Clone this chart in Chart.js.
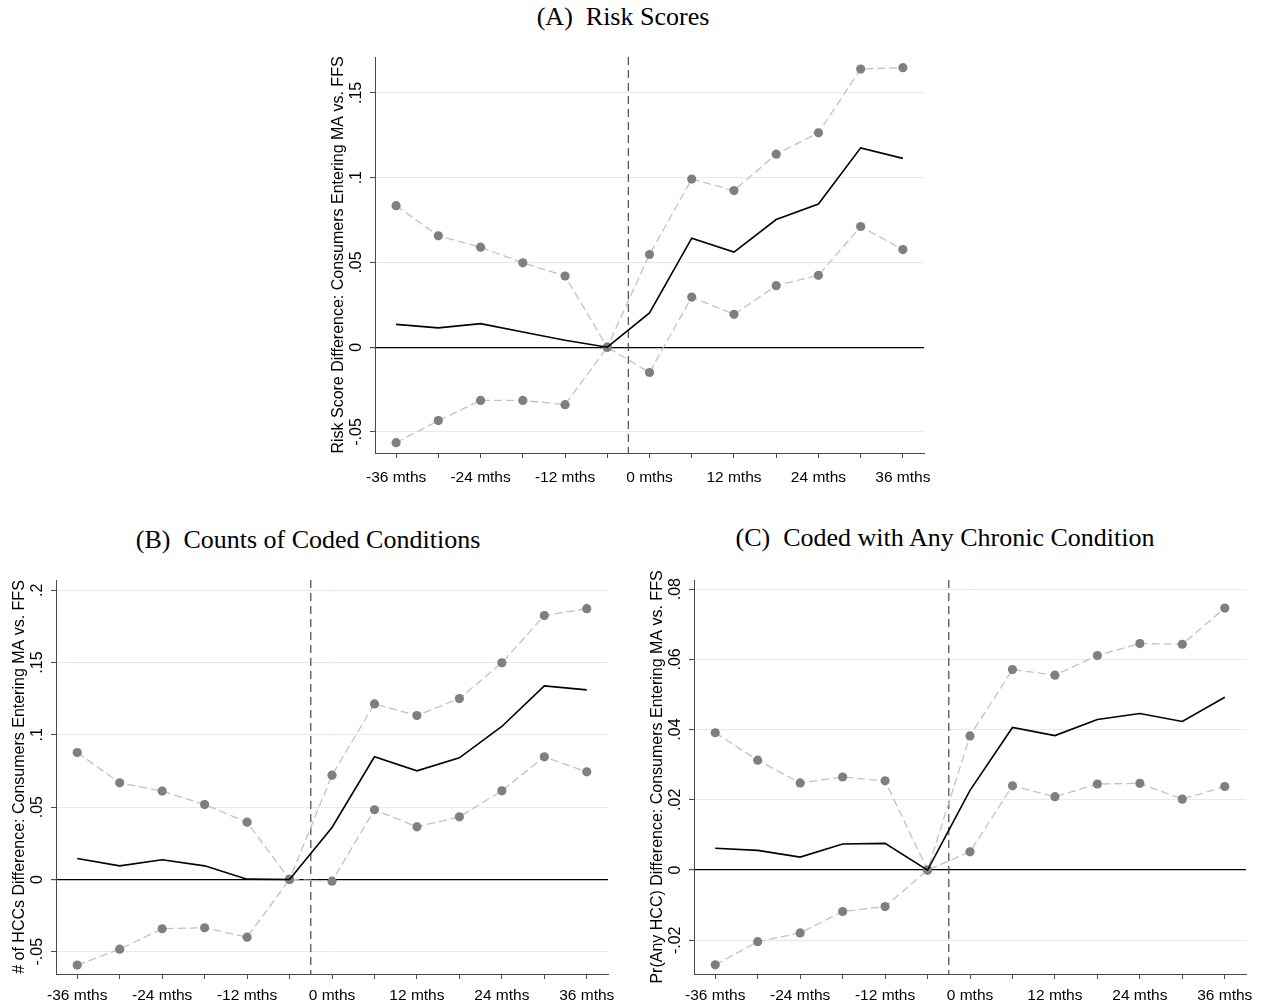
<!DOCTYPE html>
<html>
<head>
<meta charset="utf-8">
<script src="https://cdn.jsdelivr.net/npm/chart.js@4.4.1/dist/chart.umd.min.js"></script>
<style>
  body { margin: 0; background: #fff; width: 1263px; height: 1002px; position: relative; overflow: hidden; }
  .ptitle { position: absolute; font-family: "Liberation Serif", "Times New Roman", serif; font-size: 26px; line-height: 26px;
            white-space: pre; transform: translateX(-50%); color: #000; }
  canvas { position: absolute; }
</style>
</head>
<body>
<div class="ptitle" style="left:623px; top:4px;">(A)  Risk Scores</div>
<div class="ptitle" style="left:308px; top:527px;">(B)  Counts of Coded Conditions</div>
<div class="ptitle" style="left:945px; top:525px;">(C)  Coded with Any Chronic Condition</div>
<canvas id="chartA"></canvas>
<canvas id="chartB"></canvas>
<canvas id="chartC"></canvas>
<script>
// event time (months relative to switch)
var months = [-36, -30, -24, -18, -12, -6, 0, 6, 12, 18, 24, 30, 36];
var xTickLabels = ['-36 mths', '', '-24 mths', '', '-12 mths', '', '0 mths', '', '12 mths', '', '24 mths', '', '36 mths'];
var switchLine = -3;

// (A) risk scores
var riskPoint = [0.0135, 0.0114, 0.0139, 0.0090, 0.0041, 0, 0.0202, 0.0643, 0.0561, 0.0753, 0.0845, 0.1176, 0.1114];
var riskUpper = [0.0835, 0.0657, 0.0590, 0.0498, 0.0420, 0, 0.0547, 0.0992, 0.0924, 0.1139, 0.1265, 0.1641, 0.1649];
var riskLower = [-0.0563, -0.0433, -0.0314, -0.0314, -0.0339, 0, -0.0149, 0.0296, 0.0194, 0.0363, 0.0424, 0.0712, 0.0576];
var riskTicks = [-0.05, 0, 0.05, 0.1, 0.15];
var riskTickLabels = ['-.05', '0', '.05', '.1', '.15'];

// (B) counts of coded conditions
var hccPoint = [0.0145, 0.0094, 0.0136, 0.0094, 0.0002, 0, 0.0359, 0.0848, 0.0751, 0.0841, 0.1058, 0.1339, 0.1311];
var hccUpper = [0.0878, 0.0668, 0.0611, 0.0518, 0.0396, 0, 0.0721, 0.1214, 0.1134, 0.1251, 0.1498, 0.1825, 0.1873];
var hccLower = [-0.0592, -0.0482, -0.0341, -0.0334, -0.0399, 0, -0.0012, 0.0482, 0.0364, 0.0433, 0.0613, 0.0848, 0.0744];
var hccTicks = [-0.05, 0, 0.05, 0.1, 0.15, 0.2];
var hccTickLabels = ['-.05', '0', '.05', '.1', '.15', '.2'];

// (C) any chronic condition
var anyPoint = [0.0062, 0.0056, 0.0037, 0.0074, 0.0076, 0, 0.0227, 0.0406, 0.0383, 0.0429, 0.0446, 0.0423, 0.0492];
var anyUpper = [0.0391, 0.0313, 0.0248, 0.0265, 0.0254, 0, 0.0382, 0.0571, 0.0555, 0.0611, 0.0645, 0.0643, 0.0746];
var anyLower = [-0.0270, -0.0204, -0.0179, -0.0118, -0.0104, 0, 0.0052, 0.0240, 0.0209, 0.0245, 0.0247, 0.0202, 0.0238];
var anyTicks = [-0.02, 0, 0.02, 0.04, 0.06, 0.08];
var anyTickLabels = ['-.02', '0', '.02', '.04', '.06', '.08'];

var AXIS_COLOR = '#4a4a4a';
var GRID_COLOR = '#e3ecec';
var Y_W = 46, X_H = 40, PAD_T = 10, PAD_R = 14;

// vertical dashed line at the switch date
var switchLinePlugin = {
    id: 'switchLine',
    beforeDatasetsDraw: function(chart) {
        var x = chart.scales.x.getPixelForValue(switchLine);
        var area = chart.chartArea;
        var ctx = chart.ctx;
        ctx.save();
        ctx.strokeStyle = '#555';
        ctx.lineWidth = 1.3;
        ctx.setLineDash([8, 5]);
        ctx.beginPath();
        ctx.moveTo(x, area.top);
        ctx.lineTo(x, area.bottom);
        ctx.stroke();
        ctx.restore();
    }
};

function toXY(values) {
    return months.map(function(m, i) { return { x: m, y: values[i] }; });
}

function ciDataset(values) {
    return {
        data: toXY(values),
        borderColor: '#c2c2c2',
        borderWidth: 1.3,
        borderDash: [8, 4],
        pointRadius: 4.6,
        pointBackgroundColor: '#7f7f7f',
        pointBorderWidth: 0,
        pointHoverRadius: 4.6,
        tension: 0
    };
}

function makeChart(id, plot, yMin, yMax, yTicks, yTickLabels, yTitle, xPad, point, upper, lower) {
    var canvas = document.getElementById(id);
    var w = plot.right - plot.left + Y_W + PAD_R;
    var h = plot.bottom - plot.top + PAD_T + X_H;
    canvas.width = w;
    canvas.height = h;
    canvas.style.width = w + 'px';
    canvas.style.height = h + 'px';
    canvas.style.left = (plot.left - Y_W) + 'px';
    canvas.style.top = (plot.top - PAD_T) + 'px';

    return new Chart(canvas, {
        type: 'line',
        data: {
            datasets: [
                { data: toXY(point), borderColor: '#000', borderWidth: 1.6, pointRadius: 0, tension: 0 },
                ciDataset(lower),
                ciDataset(upper)
            ]
        },
        options: {
            responsive: false,
            animation: false,
            events: [],
            layout: { padding: { top: PAD_T, right: PAD_R, left: 0, bottom: 0 } },
            plugins: { legend: { display: false }, tooltip: { enabled: false } },
            scales: {
                x: {
                    type: 'linear',
                    min: -39,
                    max: 39,
                    afterBuildTicks: function(axis) {
                        axis.ticks = months.map(function(m) { return { value: m }; });
                    },
                    afterFit: function(axis) { axis.height = X_H; },
                    border: { color: AXIS_COLOR, width: 1 },
                    grid: { drawOnChartArea: false, drawTicks: true, tickLength: 5, tickColor: AXIS_COLOR },
                    ticks: {
                        autoSkip: false,
                        maxRotation: 0,
                        minRotation: 0,
                        padding: xPad,
                        color: '#000',
                        font: { family: 'Liberation Sans, Arial, sans-serif', size: 15.5 },
                        callback: function(value, index) { return xTickLabels[index]; }
                    }
                },
                y: {
                    type: 'linear',
                    min: yMin,
                    max: yMax,
                    afterBuildTicks: function(axis) {
                        axis.ticks = yTicks.map(function(v) { return { value: v }; });
                    },
                    afterFit: function(axis) { axis.width = Y_W; },
                    border: { color: AXIS_COLOR, width: 1 },
                    grid: {
                        drawTicks: true,
                        tickLength: 5,
                        tickColor: AXIS_COLOR,
                        lineWidth: function(c) { return c.tick && c.tick.value === 0 ? 1.2 : 1; },
                        color: function(c) { return c.tick && c.tick.value === 0 ? '#000' : GRID_COLOR; }
                    },
                    ticks: {
                        autoSkip: false,
                        minRotation: 90,
                        maxRotation: 90,
                        crossAlign: 'center',
                        padding: 0,
                        color: '#000',
                        font: { family: 'Liberation Sans, Arial, sans-serif', size: 16 },
                        callback: function(value, index) { return yTickLabels[index]; }
                    },
                    title: {
                        display: true,
                        text: yTitle,
                        color: '#000',
                        padding: { top: 0, bottom: 0 },
                        font: { family: 'Liberation Sans, Arial, sans-serif', size: 16, lineHeight: 1.2 }
                    }
                }
            }
        },
        plugins: [switchLinePlugin]
    });
}

makeChart('chartA', { left: 375, top: 57, right: 927, bottom: 453 }, -0.0624, 0.1712,
    riskTicks, riskTickLabels, 'Risk Score Difference: Consumers Entering MA vs. FFS', 10,
    riskPoint, riskUpper, riskLower);

makeChart('chartB', { left: 56, top: 580, right: 608, bottom: 974 }, -0.0654, 0.2071,
    hccTicks, hccTickLabels, '# of HCCs Difference: Consumers Entering MA vs. FFS', 7,
    hccPoint, hccUpper, hccLower);

makeChart('chartC', { left: 694, top: 580, right: 1246, bottom: 974 }, -0.0296, 0.0826,
    anyTicks, anyTickLabels, 'Pr(Any HCC) Difference: Consumers Entering MA vs. FFS', 7,
    anyPoint, anyUpper, anyLower);
</script>
</body>
</html>
